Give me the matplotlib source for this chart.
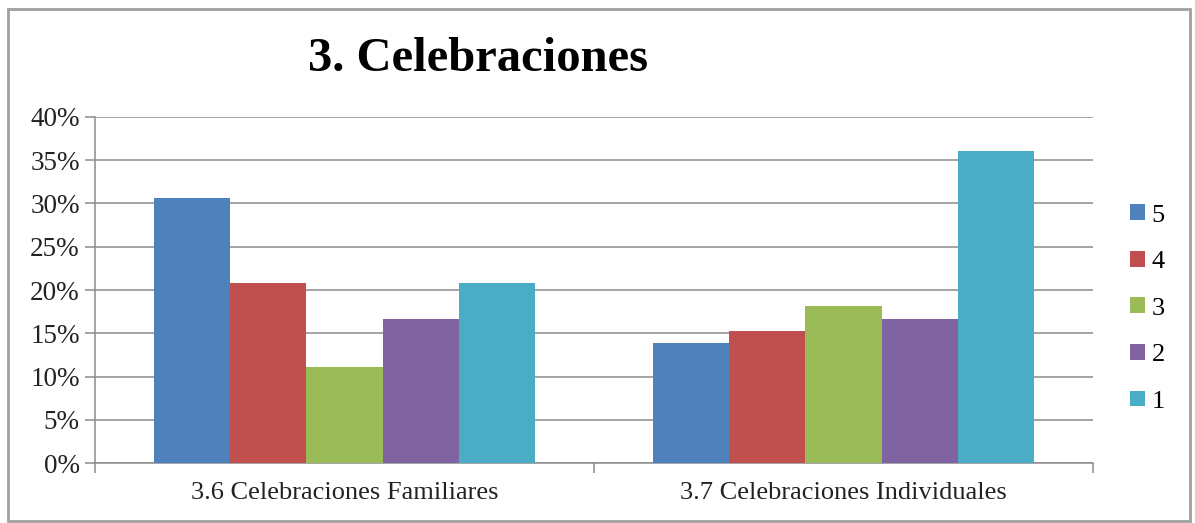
import numpy as np
import matplotlib.pyplot as plt
from matplotlib.patches import Rectangle
from matplotlib.ticker import FuncFormatter

categories = ["3.6 Celebraciones Familiares", "3.7 Celebraciones Individuales"]
series_names = ["5", "4", "3", "2", "1"]
val_5 = [30.6, 13.9]
val_4 = [20.8, 15.3]
val_3 = [11.1, 18.1]
val_2 = [16.7, 16.7]
val_1 = [20.8, 36.1]
colors = ["#4F81BD", "#C0504D", "#9BBB59", "#8064A2", "#4BACC6"]

plt.rcParams['font.family'] = ['Liberation Serif', 'DejaVu Serif']

fig = plt.figure(figsize=(11.95, 5.23), dpi=100)
ax = fig.add_axes([0.0795, 0.1147, 0.8351, 0.6616])

x = np.arange(len(categories))
w = 0.764 / 5
for i, (name, vals) in enumerate(zip(series_names, [val_5, val_4, val_3, val_2, val_1])):
    ax.bar(x + (i - 2) * w, vals, w, color=colors[i], label=name, zorder=3)

ax.set_xlim(-0.5, 1.5)
ax.set_ylim(0, 40)
ax.set_yticks(np.arange(0, 41, 5))
ax.yaxis.set_major_formatter(FuncFormatter(lambda v, p: f"{v:.0f}%"))
ax.grid(axis='y', color='#8c8c8c', linewidth=1.1, zorder=0)

# category ticks sit on the boundaries, labels in the middle
ax.set_xticks([-0.5, 0.5, 1.5])
ax.set_xticklabels([])
ax.set_xticks(x, minor=True)
ax.set_xticklabels(categories, minor=True, fontsize=19, color='#222222')
ax.tick_params(axis='x', which='minor', length=0, pad=14)
ax.tick_params(axis='x', which='major', length=7, color='#8c8c8c', width=1.1)
ax.tick_params(axis='y', length=7, color='#8c8c8c', width=1.1, labelsize=19.5,
               labelcolor='#222222', pad=4)

for s in ['top', 'right']:
    ax.spines[s].set_visible(False)
for s in ['left', 'bottom']:
    ax.spines[s].set_color('#8c8c8c')
    ax.spines[s].set_linewidth(1.1)

fig.text(0.40, 0.888, "3. Celebraciones", fontsize=35, fontweight='bold',
         ha='center', va='center')

leg = fig.legend(loc='center left', bbox_to_anchor=(0.937, 0.41), frameon=False,
                 fontsize=19, handlelength=0.55, handleheight=0.55,
                 handletextpad=0.25, labelspacing=0.92, borderaxespad=0)

# outer chart frame
fig.patches.append(Rectangle((8 / 1195, 2 / 523), 1182 / 1195, 512 / 523,
                             transform=fig.transFigure, fill=False,
                             edgecolor='#a0a0a0', linewidth=2))

fig.savefig("out.png", dpi=100)
